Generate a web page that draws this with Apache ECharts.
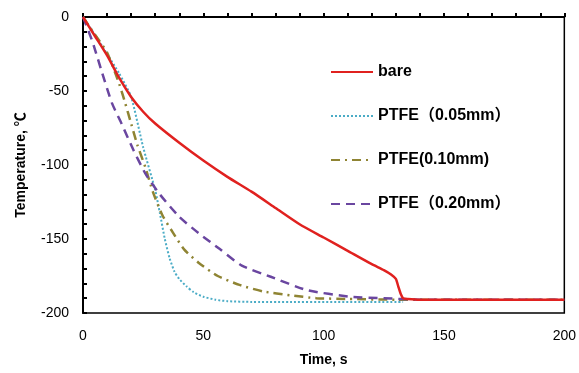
<!DOCTYPE html>
<html>
<head>
<meta charset="utf-8">
<script src="https://cdn.jsdelivr.net/npm/echarts@6/dist/echarts.min.js"></script>
<style>
  html, body { margin: 0; padding: 0; background: #fff; }
  #main { width: 579px; height: 373px; }
</style>
</head>
<body>
<div id="main"></div>
<script>
// series names
const names = ["bare", "PTFE\uFF080.05mm\uFF09", "PTFE(0.10mm)", "PTFE\uFF080.20mm\uFF09"];

// bare
const bareT = [0, 5, 10, 15, 20, 25, 30, 40, 50, 60, 70, 80, 90, 100, 110, 120, 125, 128, 130, 131, 132, 133, 135, 140, 150, 200];
const bareV = [0, -13, -26, -41, -54, -64, -72, -85, -97, -108, -118, -129, -140, -149, -158, -167, -171, -174, -177, -182, -187, -190, -190.5, -191, -191, -191];

// PTFE 0.05mm
const p05T = [0, 5, 10, 15, 20, 25, 30, 32, 34, 36, 38, 40, 43, 46, 50, 55, 60, 70, 133];
const p05V = [0, -12, -25, -38, -54, -88, -117, -133, -150, -163, -172, -177, -182, -186, -189, -191, -192, -192.5, -192.5];

// PTFE 0.10mm
const p10T = [0, 5, 10, 15, 17.5, 20, 22.5, 26, 29, 33, 37.5, 42, 48, 56, 65, 75, 86, 97, 110, 130, 200];
const p10V = [0, -12, -24, -45, -58, -72, -86, -102, -118, -134, -146, -157, -166, -175, -181, -185.5, -188, -190, -190.5, -191, -191];

// PTFE 0.20mm
const p20T = [0, 4, 8, 12, 16, 21, 26, 32, 40, 48, 57, 66, 78, 93, 111, 125, 140, 200];
const p20V = [0, -17, -38, -58, -72, -90, -106, -120, -135, -146, -157, -168, -175.5, -184.5, -189, -190, -191, -191];

const zip = (t, v) => t.map((x, i) => [x, v[i]]);

const font = "'Liberation Sans', Arial, 'Noto Sans CJK SC', sans-serif";

const chart = echarts.init(document.getElementById("main"));

const option = {
  animation: false,
  backgroundColor: "#fff",
  textStyle: { fontFamily: font },
  grid: {
    left: 83, right: 14, top: 17, bottom: 60,
    show: true, borderColor: "#000", borderWidth: 1.5,
  },
  legend: {
    orient: "vertical",
    left: 325,
    top: 59,
    itemWidth: 42,
    itemHeight: 16,
    itemGap: 28,
    data: names,
    itemStyle: { opacity: 0 },
    textStyle: { fontFamily: font, fontSize: 16, fontWeight: "bold", color: "#000", lineHeight: 16 },
  },
  xAxis: {
    type: "value",
    min: 0, max: 200, interval: 50,
    name: "Time, s",
    nameLocation: "middle",
    nameGap: 40,
    nameTextStyle: { fontFamily: font, fontSize: 14, fontWeight: "bold", color: "#000" },
    axisLine: { lineStyle: { color: "#000", width: 2 } },
    axisTick: { inside: true, length: 4, lineStyle: { color: "#000", width: 2 } },
    minorTick: { show: true, splitNumber: 5, length: 4, lineStyle: { color: "#000", width: 2 } },
    axisLabel: { fontFamily: font, fontSize: 14, color: "#000", margin: 16 },
    splitLine: { show: false },
  },
  yAxis: {
    type: "value",
    min: -200, max: 0, interval: 50,
    name: "Temperature, \u2103",
    nameLocation: "middle",
    nameGap: 55,
    nameTextStyle: { fontFamily: font, fontSize: 14, fontWeight: "bold", color: "#000" },
    axisLine: { show: true, lineStyle: { color: "#000", width: 2 } },
    axisTick: { show: true, inside: true, length: 4, lineStyle: { color: "#000", width: 2 } },
    minorTick: { show: true, splitNumber: 5, length: 4, lineStyle: { color: "#000", width: 2 } },
    axisLabel: { fontFamily: font, fontSize: 14, color: "#000", margin: 14 },
    splitLine: { show: false },
  },
  series: [
    {
      name: names[0], type: "line", showSymbol: false, symbol: "none", smooth: 0.2,
      data: zip(bareT, bareV),
      itemStyle: { color: "#E0211F" },
      lineStyle: { color: "#E0211F", width: 2.5, type: "solid" },
      z: 5,
    },
    {
      name: names[1], type: "line", showSymbol: false, symbol: "none", smooth: 0.2,
      data: zip(p05T, p05V),
      itemStyle: { color: "#4BACC6" },
      lineStyle: { color: "#4BACC6", width: 2, type: [2, 2] },
    },
    {
      name: names[2], type: "line", showSymbol: false, symbol: "none", smooth: 0.2,
      data: zip(p10T, p10V),
      itemStyle: { color: "#8F8433" },
      lineStyle: { color: "#8F8433", width: 2.5, type: [9, 5, 2, 5] },
    },
    {
      name: names[3], type: "line", showSymbol: false, symbol: "none", smooth: 0.2,
      data: zip(p20T, p20V),
      itemStyle: { color: "#6A46A0" },
      lineStyle: { color: "#6A46A0", width: 2.5, type: [9, 6] },
    },
  ],
};

chart.setOption(option);
</script>
</body>
</html>
